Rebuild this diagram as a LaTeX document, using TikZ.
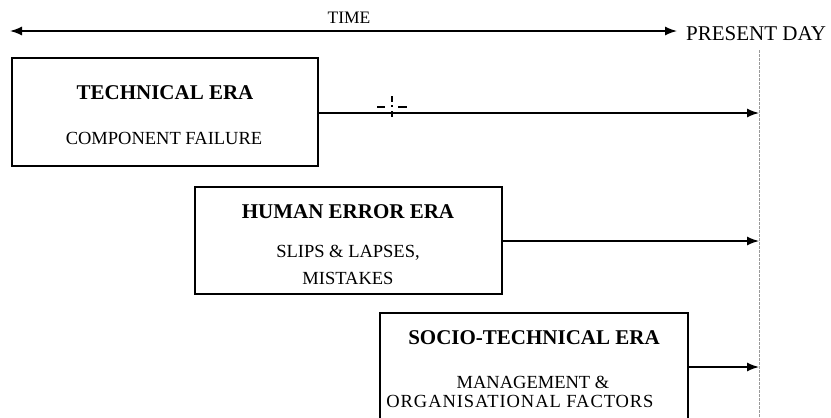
\documentclass[tikz,border=0pt]{standalone}
\usepackage{fontspec}
\setmainfont{Liberation Serif}
\usetikzlibrary{arrows.meta}
\begin{document}
\begin{tikzpicture}[x=1pt,y=-1pt,
  tip/.tip={Latex[length=12pt,width=9pt]},
  era/.style={draw, line width=1.4pt},
  conn/.style={line width=1.4pt, -tip},
  ttl/.style={font=\fontsize{21}{24}\selectfont\bfseries, inner sep=0pt},
  sub/.style={font=\fontsize{18.5}{22}\selectfont, inner sep=0pt}]
\useasboundingbox (0,0) rectangle (831,418);
% time axis
\coordinate (tl) at (10,31);
\coordinate (tr) at (677,31);
\draw[line width=1.4pt, tip-tip] (tl) -- (tr);
\node[font=\fontsize{17.5}{20}\selectfont, inner sep=0pt] (time) at (349,18) {TIME};
\node[anchor=west, font=\fontsize{21}{24}\selectfont, inner sep=0pt] (pd) at (686,34) {PRESENT DAY};
% present day line
\coordinate (dtop) at (759,50);
\coordinate (dbot) at (759,418);
\draw[dash pattern=on 2.5pt off 1.5pt, line width=0.8pt, gray!80] (dtop) -- (dbot);
% boxes
\draw[era] (12,58) rectangle (318,166);
\node[ttl] (t1) at (165,93) {TECHNICAL ERA};
\node[sub] (s1) at (164,138) {COMPONENT FAILURE};
\draw[era] (195,187) rectangle (502,294);
\node[ttl] (t2) at (348,212) {HUMAN ERROR ERA};
\node[sub] (s2a) at (348,253) {SLIPS \& LAPSES,};
\node[sub] (s2b) at (348,278) {MISTAKES};
\draw[era] (380,313) rectangle (688,430);
\node[ttl] (t3) at (534,338) {SOCIO-TECHNICAL ERA};
\node[sub] (s3a) at (533,382) {MANAGEMENT \&};
\node[sub] (s3b) at (520,401) {\addfontfeature{LetterSpace=5}ORGANISATIONAL FACTORS};
% arrows
\coordinate (b1) at (318,113); \coordinate (e1) at (759,113);
\coordinate (b2) at (502,241); \coordinate (e2) at (759,241);
\coordinate (b3) at (688,367); \coordinate (e3) at (759,367);
\draw[conn] (b1) -- (e1);
\draw[conn] (b2) -- (e2);
\draw[conn] (b3) -- (e3);
% cursor mark
\draw[line width=1.1pt] (392,96) -- (392,102) (392,105) -- (392,107) (392,111) -- (392,117);
\draw[line width=1.1pt] (377,107) -- (385,107) (398,107) -- (407,107);
\end{tikzpicture}
\end{document}
